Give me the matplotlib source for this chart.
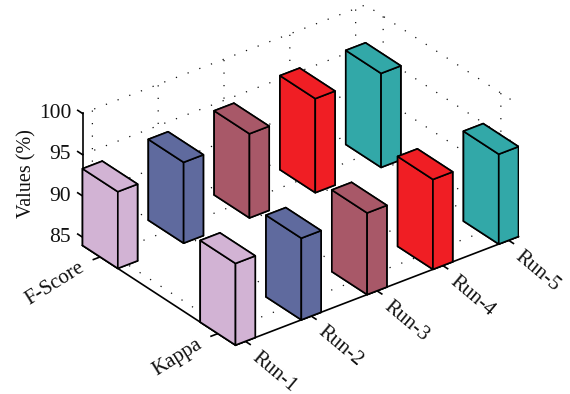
import matplotlib
matplotlib.use("Agg")
import matplotlib.pyplot as plt

runs = ["Run-1", "Run-2", "Run-3", "Run-4", "Run-5"]
measures = ["Kappa", "F-Score"]
kappa_values = [93.9, 93.9, 93.9, 94.9, 94.9]
fscore_values = [93.3, 93.8, 94.2, 95.4, 95.4]
run_colors = ["#d2b3d4", "#5f6a9e", "#a85868", "#f01e24", "#32a8a8"]
z_ticks = [85, 90, 95, 100]

z_floor = 84
z_top = 100
bar_width = 0.3

plt.rcParams["font.family"] = ["Liberation Serif", "DejaVu Serif"]

fig = plt.figure(figsize=(5.7, 3.94), dpi=100)
# square 3D axes sized in pixels so the box fills the figure
side = 448.7
ax = fig.add_axes([70.1 / 570, -11.4 / 394, side / 570, side / 394],
                  projection="3d", proj_type="ortho")
ax.view_init(elev=30, azim=-127.5)
ax.set_box_aspect((356.7, 251.3, 152.4), zoom=1)
ax.patch.set_alpha(0)

for i, run in enumerate(runs):
    x = i + 1 - bar_width / 2
    for j, vals in enumerate([kappa_values, fscore_values]):
        y = j + 1 - bar_width / 2
        ax.bar3d(x, y, z_floor, bar_width, bar_width, vals[i] - z_floor,
                 color=run_colors[i], edgecolor="black", linewidth=1.2, shade=False)

ax.set_xlim(1 - bar_width / 2, 5 + bar_width / 2)
ax.set_ylim(1 - bar_width / 2, 2 + bar_width / 2)
ax.set_zlim(z_floor, z_top)
ax.set_xticks(range(1, 6), labels=runs)
ax.set_yticks([1, 2], labels=measures)
ax.set_zticks(z_ticks)

# (inward, outward) tick factors; with this view "inward" points away from the box on x and y
tick_len = {ax.xaxis: (0.39, 0), ax.yaxis: (0.3, 0), ax.zaxis: (0, 0.39)}
for axis in (ax.xaxis, ax.yaxis, ax.zaxis):
    axis.set_pane_color((1, 1, 1, 0))
    axis.pane.set_edgecolor((1, 1, 1, 0))
    axis.line.set_linewidth(1.2)
    axis.line.set_color("black")
    axis._axinfo["grid"].update(color="#111111", linewidth=0.9, linestyle=(0, (1, 9)))
    axis._axinfo["tick"].update(inward_factor=tick_len[axis][0], outward_factor=tick_len[axis][1],
                                linewidth={True: 1.2, False: 1.2})

# height ticks run along the y direction
ax.zaxis._get_tickdir = lambda pos: 1

ax.tick_params(axis="x", labelsize=15, labelcolor="#111111", color="black", pad=2)
ax.tick_params(axis="y", labelsize=15, labelcolor="#111111", color="black", pad=1)
ax.tick_params(axis="z", labelsize=15.5, labelcolor="#111111", color="black", pad=-3.6)
for t in ax.get_xticklabels():
    t.set(rotation=-40, ha="left", va="center", rotation_mode="anchor")
for t in ax.get_yticklabels():
    t.set(rotation=32, ha="right", va="baseline", rotation_mode="anchor")
for t in ax.get_zticklabels():
    t.set(ha="right", va="center")

fig.text(27 / 570, 1 - 174 / 394, "Values (%)", rotation=90, ha="center", va="center",
         fontsize=14.5, color="#111111")

fig.savefig("out.png", dpi=100)
